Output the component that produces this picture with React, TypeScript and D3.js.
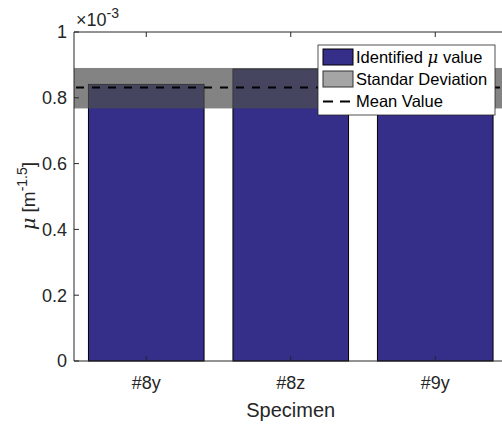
import React from "react";
import * as d3 from "d3";

const categories = ["#8y", "#8z", "#9y"];
const muValues = [0.8407e-3, 0.8875e-3, 0.7666e-3];
const meanValue = 0.8316e-3;
const stdBand = [0.7677e-3, 0.8906e-3];
const yTicks = [0, 0.2e-3, 0.4e-3, 0.6e-3, 0.8e-3, 1e-3];
const yTickLabels = ["0", "0.2", "0.4", "0.6", "0.8", "1"];

const W = 502;
const H = 424;
const FONT = "'Liberation Sans', Arial, Helvetica, sans-serif";
const TXT = "#262626";

export default function App() {
  const x = d3.scaleLinear().domain([0.5, 3.5]).range([74, 74 + 3 * 144.5]);
  const y = d3.scaleLinear().domain([0, 1e-3]).range([361, 32]);
  const barW = 0.8;
  const [x0, x1] = x.range();
  const [yb, yt] = y.range();

  return (
    <svg width={W} height={H} style={{ position: "absolute", left: 0, top: 0, background: "#fff" }} fontFamily={FONT}>
      {/* bars */}
      {muValues.map((v, i) => (
        <rect key={i} x={x(i + 1 - barW / 2)} y={y(v)} width={x(i + 1 + barW / 2) - x(i + 1 - barW / 2)} height={y(0) - y(v)}
          fill="#352f8a" stroke="#000" strokeWidth={1} />
      ))}
      {/* std band */}
      <rect x={x0} y={y(stdBand[1])} width={x1 - x0} height={y(stdBand[0]) - y(stdBand[1])} fill="rgb(79,79,79)" fillOpacity={0.7} />
      {/* mean line */}
      <line x1={x0} x2={x1} y1={y(meanValue)} y2={y(meanValue)} stroke="#000" strokeWidth={2} strokeDasharray="8,8" strokeDashoffset={-2} />
      {/* axes box */}
      <line x1={x0} x2={x0} y1={yt} y2={yb} stroke={TXT} strokeWidth={1} />
      <line x1={x0} x2={x1} y1={yb} y2={yb} stroke={TXT} strokeWidth={1} />
      <line x1={x0} x2={x1} y1={yt} y2={yt} stroke={TXT} strokeWidth={1} />
      {/* y ticks */}
      {yTicks.map((t, i) => (
        <g key={i}>
          <line x1={x0} x2={x0 + 5} y1={y(t)} y2={y(t)} stroke={TXT} />
          <text x={x0 - 7} y={y(t)} dy="0.35em" textAnchor="end" fontSize={18} fill={TXT}>{yTickLabels[i]}</text>
        </g>
      ))}
      {/* x ticks */}
      {categories.map((c, i) => (
        <g key={c}>
          <line x1={x(i + 1)} x2={x(i + 1)} y1={yb} y2={yb - 5} stroke={TXT} />
          <line x1={x(i + 1)} x2={x(i + 1)} y1={yt} y2={yt + 5} stroke={TXT} />
          <text x={x(i + 1)} y={yb + 22} dy="0.35em" textAnchor="middle" fontSize={18} fill={TXT}>{c}</text>
        </g>
      ))}
      {/* exponent */}
      <text x={x0 + 2} y={26} fontSize={18} fill={TXT}>
        ×10<tspan dy={-8} fontSize={14}>-3</tspan>
      </text>
      {/* labels */}
      <text x={x(2)} y={410} dy="0.35em" textAnchor="middle" fontSize={20} fill={TXT}>Specimen</text>
      <text transform={`translate(28,${196}) rotate(-90)`} textAnchor="middle" dy="0.35em" fontSize={19} fill={TXT}>
        <tspan fontFamily="'DejaVu Serif', serif" fontStyle="italic">μ</tspan> [m<tspan dy={-8} fontSize={14}>-1.5</tspan><tspan dy={8}>]</tspan>
      </text>
      {/* legend */}
      <g>
        <rect x={318} y={45} width={177} height={70} fill="#fff" stroke={TXT} strokeWidth={0.8} />
        <rect x={323} y={49} width={30} height={16} fill="#352f8a" stroke="#000" />
        <text x={356} y={57} dy="0.35em" fontSize={16.5} fill="#000">Identified <tspan fontFamily="'DejaVu Serif', serif" fontStyle="italic">μ</tspan> value</text>
        <rect x={323} y={71} width={30} height={16} fill="#a5a5a5" stroke="#333" />
        <text x={356} y={79} dy="0.35em" fontSize={16.5} fill="#000">Standar Deviation</text>
        <line x1={323} x2={350} y1={101.5} y2={101.5} stroke="#000" strokeWidth={2} strokeDasharray="10,7" />
        <text x={356} y={101} dy="0.35em" fontSize={16.5} fill="#000">Mean Value</text>
      </g>
    </svg>
  );
}
